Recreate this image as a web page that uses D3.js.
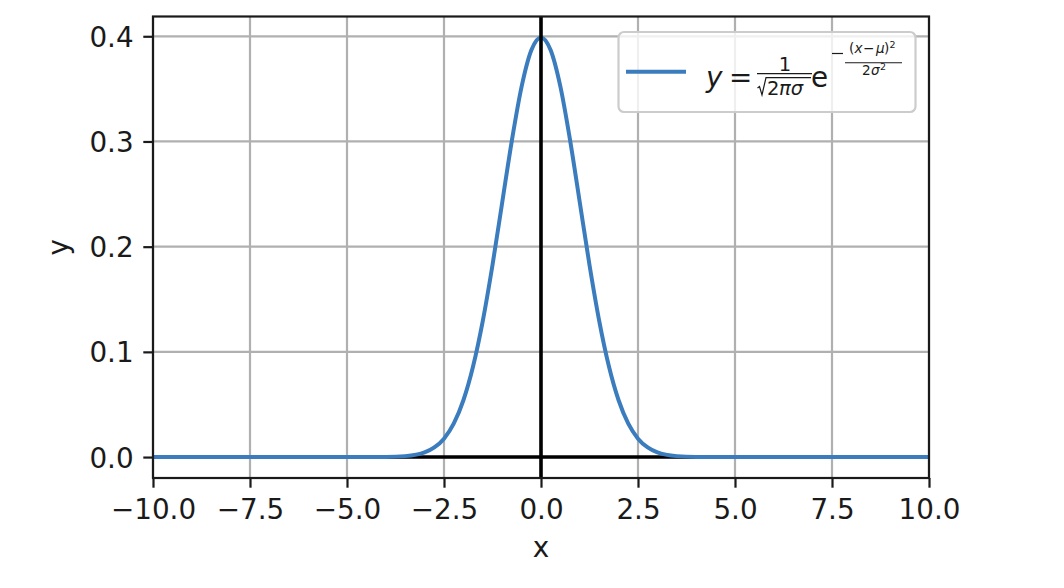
<!DOCTYPE html>
<html>
<head>
<meta charset="utf-8">
<script src="https://cdn.jsdelivr.net/npm/d3@7"></script>
<style>
  html, body { margin: 0; padding: 0; background: #fff; }
  svg text { font-family: "DejaVu Sans", sans-serif; fill: #1a1a1a; }
</style>
</head>
<body>
<svg id="chart" width="1064" height="588"></svg>
<script>
// ---- data ----
const xValues = [-10, -5, -4, -3.5, -3, -2.75, -2.5, -2.25, -2, -1.75, -1.5, -1.25, -1, -0.75, -0.5, -0.25,
                 0, 0.25, 0.5, 0.75, 1, 1.25, 1.5, 1.75, 2, 2.25, 2.5, 2.75, 3, 3.5, 4, 5, 10];
const yValues = [0, 0, 0.0001, 0.0009, 0.0044, 0.0091, 0.0175, 0.0317, 0.054, 0.0863, 0.1295, 0.1826, 0.242, 0.3011, 0.3521, 0.3867,
                 0.3989, 0.3867, 0.3521, 0.3011, 0.242, 0.1826, 0.1295, 0.0863, 0.054, 0.0317, 0.0175, 0.0091, 0.0044, 0.0009, 0.0001, 0, 0];
const xTicks = [-10, -7.5, -5, -2.5, 0, 2.5, 5, 7.5, 10];
const yTicks = [0, 0.1, 0.2, 0.3, 0.4];
const xDomain = [-10, 10];
const yDomain = [-0.0199, 0.4188];

const svg = d3.select("#chart");
const L = 153, R = 929, T = 16.5, B = 478;
const x = d3.scaleLinear().domain(xDomain).range([L, R]);
const y = d3.scaleLinear().domain(yDomain).range([B, T]);
const FS = 27.8;
const tickLen = 9.7;

// grid
const grid = svg.append("g");
grid.selectAll("line.gx").data(xTicks).join("line")
  .attr("x1", d => x(d)).attr("x2", d => x(d)).attr("y1", T).attr("y2", B)
  .attr("stroke", "#b0b0b0").attr("stroke-width", 2.2);
grid.selectAll("line.gy").data(yTicks).join("line")
  .attr("y1", d => y(d)).attr("y2", d => y(d)).attr("x1", L).attr("x2", R)
  .attr("stroke", "#b0b0b0").attr("stroke-width", 2.2);

// horizontal zero line
svg.append("line").attr("x1", L).attr("x2", R).attr("y1", y(0)).attr("y2", y(0))
  .attr("stroke", "#000").attr("stroke-width", 3.6);

// curve
const pts = xValues.map((v, i) => [v, yValues[i]]);
svg.append("path").datum(pts)
  .attr("fill", "none").attr("stroke", "#3a7cbd").attr("stroke-width", 4)
  .attr("stroke-linejoin", "round")
  .attr("d", d3.line().x(d => x(d[0])).y(d => y(d[1])).curve(d3.curveMonotoneX));

// vertical zero line
svg.append("line").attr("x1", x(0)).attr("x2", x(0)).attr("y1", T).attr("y2", B)
  .attr("stroke", "#000").attr("stroke-width", 3.6);

// axes
const fmtX = d => d3.format(".1f")(d).replace("-", "\u2212");
const xAxis = svg.append("g").attr("transform", `translate(0,${B})`)
  .call(d3.axisBottom(x).tickValues(xTicks).tickFormat(fmtX).tickSize(tickLen).tickPadding(9.7));
const yAxis = svg.append("g").attr("transform", `translate(${L},0)`)
  .call(d3.axisLeft(y).tickValues(yTicks).tickFormat(d3.format(".1f")).tickSize(tickLen).tickPadding(9.7));
[xAxis, yAxis].forEach(a => {
  a.select(".domain").remove();
  a.selectAll(".tick line").attr("stroke", "#1a1a1a").attr("stroke-width", 2.2);
  a.selectAll(".tick text").attr("font-size", FS).attr("font-family", "DejaVu Sans").attr("fill", "#1a1a1a");
});
xAxis.selectAll(".tick text").attr("dy", null).attr("y", 0).attr("transform", "translate(0,41)");
yAxis.selectAll(".tick text").attr("dy", "0.36em");

// frame (spines)
svg.append("rect").attr("x", L).attr("y", T).attr("width", R - L).attr("height", B - T)
  .attr("fill", "none").attr("stroke", "#1a1a1a").attr("stroke-width", 2.2);

// axis labels
svg.append("text").attr("x", x(0)).attr("y", 557).attr("text-anchor", "middle")
  .attr("font-size", FS).text("x");
svg.append("text").attr("transform", `translate(68,${(T + B) / 2}) rotate(-90)`)
  .attr("text-anchor", "middle").attr("font-size", FS).text("y");

// legend
const lg = svg.append("g");
lg.append("rect").attr("x", 618.5).attr("y", 32).attr("width", 297).attr("height", 80)
  .attr("rx", 5.5).attr("fill", "#fff").attr("fill-opacity", 0.8)
  .attr("stroke", "#cccccc").attr("stroke-width", 2.2);
lg.append("line").attr("x1", 626).attr("x2", 686).attr("y1", 71.7).attr("y2", 71.7)
  .attr("stroke", "#3a7cbd").attr("stroke-width", 4);

const m = lg.append("g");
const addT = (txt, xx, yy, fs, opts = {}) => {
  const t = m.append("text").attr("x", xx).attr("y", yy).attr("font-size", fs).text(txt);
  if (opts.italic) t.attr("font-style", "italic");
  if (opts.anchor) t.attr("text-anchor", opts.anchor);
  return t;
};
const hl = (x1, x2, yy, w) => m.append("line").attr("x1", x1).attr("x2", x2).attr("y1", yy).attr("y2", yy)
  .attr("stroke", "#1a1a1a").attr("stroke-width", w);

addT("y", 706, 87, FS, { italic: true });
addT("=", 729, 87, FS);
// 1 / sqrt(2 pi sigma)
addT("1", 785, 70.5, 19.5, { anchor: "middle" });
hl(757, 812, 73.6, 1.4);
// sqrt sign
m.append("path").attr("d", "M757.5,88 L759.5,86.5 L762,95 L766,77.6 L811,77.6")
  .attr("fill", "none").attr("stroke", "#1a1a1a").attr("stroke-width", 1.2);
addT("2", 767, 95, 19.5);
addT("\u03C0\u03C3", 779, 95, 19.5, { italic: true });
addT("e", 811, 87, FS);
// exponent
hl(832, 843, 53.5, 1.2);
addT("(", 849, 53, 13.6);
addT("x", 854.5, 53, 13.6, { italic: true });
addT("\u2212", 863, 53, 13.6);
addT("\u03BC", 876, 53, 13.6, { italic: true });
addT(")", 884, 53, 13.6);
addT("2", 889.5, 47.5, 9.5);
hl(845, 902, 62.7, 1.1);
addT("2", 862, 75, 13.6);
addT("\u03C3", 871, 75, 13.6, { italic: true });
addT("2", 880, 69.5, 9.5);
</script>
</body>
</html>
